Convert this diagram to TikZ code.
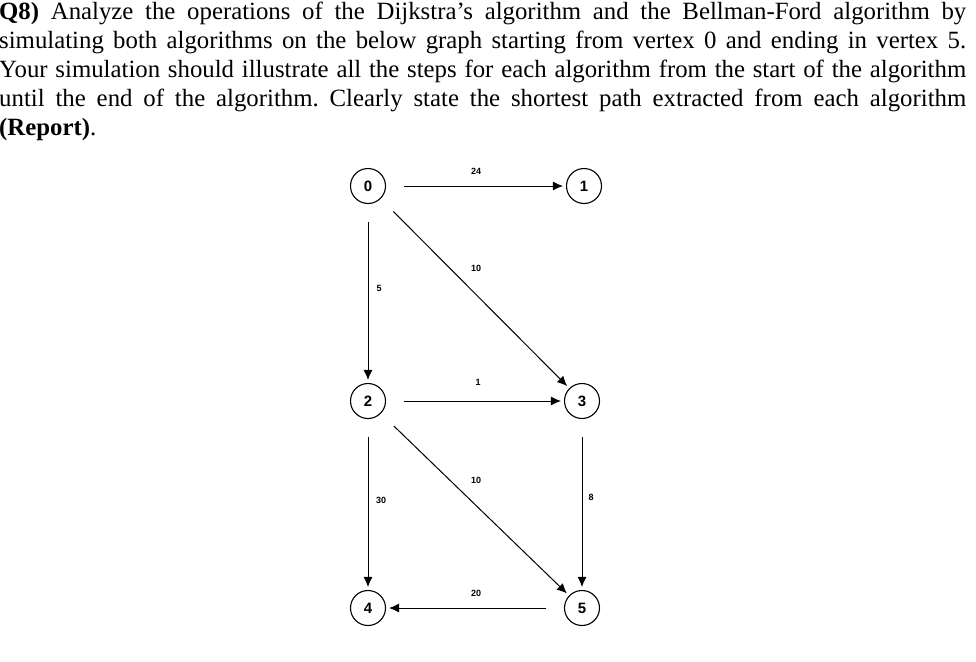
\documentclass[tikz,border=0pt]{standalone}
\usepackage{fontspec}
\setmainfont{Liberation Serif}
\newfontfamily\lblfont{Liberation Sans}
\usetikzlibrary{arrows.meta}
\begin{document}
\begin{tikzpicture}[x=1pt,y=-1pt,
  vtx/.style={circle,draw,line width=1.1pt,minimum size=35pt,inner sep=0pt,font=\lblfont\bfseries\fontsize{15}{15}\selectfont},
  edge/.style={line width=1pt,-{Latex[length=10pt,width=9pt]},shorten <=18pt,shorten >=3pt},
  wlab/.style={font=\lblfont\bfseries\fontsize{9}{9}\selectfont,inner sep=1pt}]
\useasboundingbox (0,0) rectangle (976,661);
\node[anchor=north west,text width=967pt,align=justify,inner sep=0pt,font=\frenchspacing\fontsize{24.8}{29}\selectfont] (q) at (-1,2)
{\textbf{Q8)} Analyze the operations of the Dijkstra's algorithm and the Bellman-Ford algorithm by\linebreak
simulating both algorithms on the below graph starting from vertex 0 and ending in vertex 5.\linebreak
Your simulation should illustrate all the steps for each algorithm from the start of the algorithm\linebreak
until the end of the algorithm. Clearly state the shortest path extracted from each algorithm\linebreak
\textbf{(Report)}.};
\node[vtx] (v0) at (368,186) {0};
\node[vtx] (v1) at (584,186) {1};
\node[vtx] (v2) at (368,401) {2};
\node[vtx] (v3) at (582,401) {3};
\node[vtx] (v4) at (368,608) {4};
\node[vtx] (v5) at (582,608) {5};
\draw[edge] (v0) -- (v1);
\draw[edge] (v0) -- (v3);
\draw[edge] (v0) -- (v2);
\draw[edge] (v2) -- (v3);
\draw[edge] (v2) -- (v5);
\draw[edge] (v2) -- (v4);
\draw[edge] (v3) -- (v5);
\draw[edge] (v5) -- (v4);
\node[wlab] (l24) at (476,171) {24};
\node[wlab] (l10a) at (476,268) {10};
\node[wlab] (l5) at (379,288) {5};
\node[wlab] (l1) at (478,382) {1};
\node[wlab] (l10b) at (476,480) {10};
\node[wlab] (l30) at (381,500) {30};
\node[wlab] (l8) at (591,497) {8};
\node[wlab] (l20) at (476,593) {20};
\end{tikzpicture}
\end{document}
